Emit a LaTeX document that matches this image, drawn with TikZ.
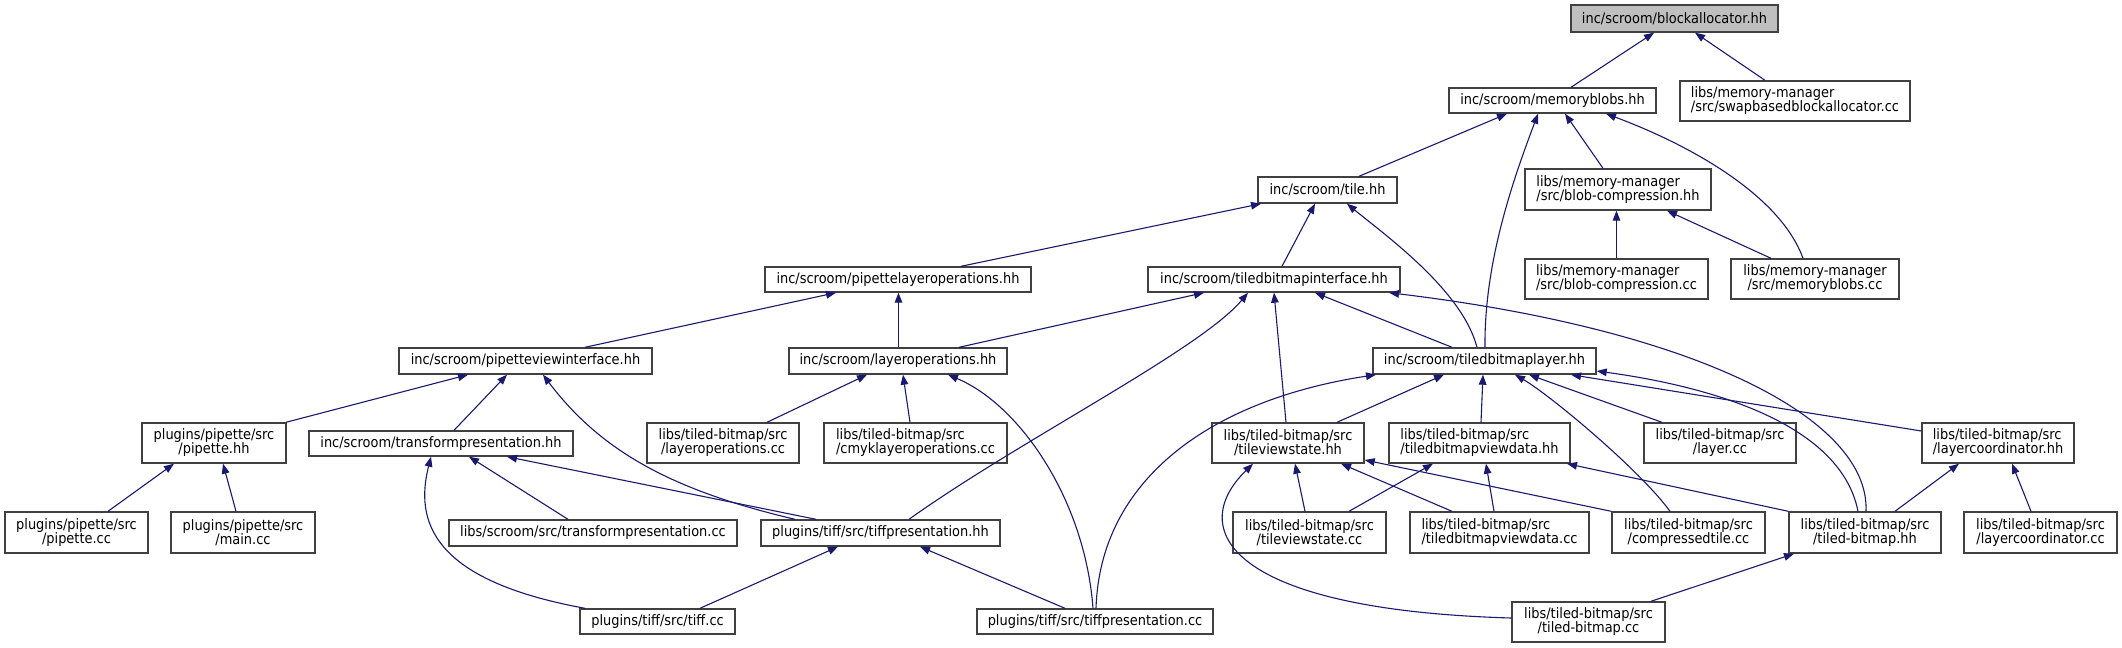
\documentclass[tikz,border=0pt]{standalone}
\usepackage{fontspec}
\setmainfont{DejaVu Sans}[FakeStretch=0.9]
\usetikzlibrary{arrows.meta}
\definecolor{edgeblue}{HTML}{191970}
\definecolor{grey25}{HTML}{404040}
\definecolor{grey75}{HTML}{BFBFBF}
\newcommand\twoln[2]{\setbox0=\hbox{#1}\setbox2=\hbox{#2}\dimen0=\wd0 \ifdim\wd2>\dimen0 \dimen0=\wd2 \fi\vbox{\hbox to\dimen0{\box0\hfil}\hbox to\dimen0{\hfil\box2\hfil}}}
\newcommand\bx[7][]{\pgfmathsetmacro\bxw{(#4-#3)*0.5}\pgfmathsetmacro\bxh{(#6-#5)*0.5}\pgfmathsetmacro\bxx{(#3+#4)/2}\pgfmathsetmacro\bxy{(#5+#6)/2}\node[box,#1,minimum width=\bxw pt,minimum height=\bxh pt] (#2) at (\bxx,\bxy) {#7};}
\begin{document}
\begin{tikzpicture}[x=0.5pt,y=-0.5pt,
  box/.style={draw=grey25, line width=0.7pt, fill=white, inner sep=0pt, font=\fontsize{7.2pt}{7pt}\selectfont},
  root/.style={fill=grey75},
  edge/.style={draw=edgeblue, line width=0.55pt, {Triangle[length=5pt,width=3.8pt]}-}]
\fill[white] (0,0) rectangle (2122,648);
\useasboundingbox (0,0) rectangle (2122,648);
% nodes
\bx[root]{blockalloc}{1571}{1778}{5}{32}{inc/scroom/blockallocator.hh}
\bx{memblobs}{1449}{1656}{88}{113}{inc/scroom/memoryblobs.hh}
\bx{swap}{1680}{1910}{81}{121}{\twoln{libs/memory-manager}{/src/swapbasedblockallocator.cc}}
\bx{tile}{1258}{1397}{177}{203}{inc/scroom/tile.hh}
\bx{bchh}{1525}{1711}{169}{210}{\twoln{libs/memory-manager}{/src/blob-compression.hh}}
\bx{plo}{765}{1031}{267}{292}{inc/scroom/pipettelayeroperations.hh}
\bx{tbi}{1148}{1400}{267}{292}{inc/scroom/tiledbitmapinterface.hh}
\bx{bccc}{1525}{1708}{259}{299}{\twoln{libs/memory-manager}{/src/blob-compression.cc}}
\bx{mbcc}{1731}{1899}{259}{299}{\twoln{libs/memory-manager}{/src/memoryblobs.cc}}
\bx{pvi}{399}{652}{348}{374}{inc/scroom/pipetteviewinterface.hh}
\bx{lohh}{789}{1007}{348}{374}{inc/scroom/layeroperations.hh}
\bx{tbl}{1373}{1596}{348}{374}{inc/scroom/tiledbitmaplayer.hh}
\bx{pphh}{142}{286}{423}{463}{\twoln{plugins/pipette/src}{/pipette.hh}}
\bx{tphh}{309}{573}{431}{456}{inc/scroom/transformpresentation.hh}
\bx{locc}{647}{799}{423}{463}{\twoln{libs/tiled-bitmap/src}{/layeroperations.cc}}
\bx{cmyk}{824}{1007}{423}{463}{\twoln{libs/tiled-bitmap/src}{/cmyklayeroperations.cc}}
\bx{tvshh}{1212}{1364}{423}{463}{\twoln{libs/tiled-bitmap/src}{/tileviewstate.hh}}
\bx{tbvdhh}{1389}{1570}{423}{463}{\twoln{libs/tiled-bitmap/src}{/tiledbitmapviewdata.hh}}
\bx{laycc}{1644}{1796}{423}{463}{\twoln{libs/tiled-bitmap/src}{/layer.cc}}
\bx{lchh}{1922}{2074}{423}{463}{\twoln{libs/tiled-bitmap/src}{/layercoordinator.hh}}
\bx{ppcc}{5}{148}{512}{553}{\twoln{plugins/pipette/src}{/pipette.cc}}
\bx{maincc}{171}{315}{512}{553}{\twoln{plugins/pipette/src}{/main.cc}}
\bx{tpcc}{449}{737}{520}{546}{libs/scroom/src/transformpresentation.cc}
\bx{tiffphh}{761}{1000}{520}{546}{plugins/tiff/src/tiffpresentation.hh}
\bx{tvscc}{1233}{1386}{512}{553}{\twoln{libs/tiled-bitmap/src}{/tileviewstate.cc}}
\bx{tbvdcc}{1410}{1589}{512}{553}{\twoln{libs/tiled-bitmap/src}{/tiledbitmapviewdata.cc}}
\bx{ctcc}{1612}{1765}{512}{553}{\twoln{libs/tiled-bitmap/src}{/compressedtile.cc}}
\bx{tbhh}{1789}{1941}{512}{553}{\twoln{libs/tiled-bitmap/src}{/tiled-bitmap.hh}}
\bx{lccc}{1964}{2117}{512}{553}{\twoln{libs/tiled-bitmap/src}{/layercoordinator.cc}}
\bx{tiffcc}{580}{735}{609}{634}{plugins/tiff/src/tiff.cc}
\bx{tiffpcc}{977}{1213}{609}{634}{plugins/tiff/src/tiffpresentation.cc}
\bx{tbcc}{1512}{1665}{602}{642}{\twoln{libs/tiled-bitmap/src}{/tiled-bitmap.cc}}
% edges
\draw[edge] (1654,0 |- blockalloc.south) -- (1571,0 |- memblobs.north);
\draw[edge] (1695,0 |- blockalloc.south) -- (1765,0 |- swap.north);
\draw[edge] (1507,0 |- memblobs.south) -- (1359,0 |- tile.north);
\draw[edge] (1538,0 |- memblobs.south) .. controls (1515,175) and (1484,260) .. (1485,0 |- tbl.north);
\draw[edge] (1565,0 |- memblobs.south) -- (1603,0 |- bchh.north);
\draw[edge] (1606,0 |- memblobs.south) .. controls (1690,145) and (1780,195) .. (1803,0 |- mbcc.north);
\draw[edge] (1616.5,0 |- bchh.south) -- (1616.5,0 |- bccc.north);
\draw[edge] (1667,0 |- bchh.south) -- (1771,0 |- mbcc.north);
\draw[edge] (1261,0 |- tile.south) -- (961,0 |- plo.north);
\draw[edge] (1315,0 |- tile.south) -- (1282,0 |- tbi.north);
\draw[edge] (1347,0 |- tile.south) .. controls (1385,235) and (1462,290) .. (1477,0 |- tbl.north);
\draw[edge] (836,0 |- plo.south) -- (585,0 |- pvi.north);
\draw[edge] (898.5,0 |- plo.south) -- (898.5,0 |- lohh.north);
\draw[edge] (1204,0 |- tbi.south) -- (959,0 |- lohh.north);
\draw[edge] (1248,0 |- tbi.south) .. controls (1200,350) and (1020,440) .. (909,0 |- tiffphh.north);
\draw[edge] (1274,0 |- tbi.south) -- (1286,0 |- tvshh.north);
\draw[edge] (1315,0 |- tbi.south) -- (1452,0 |- tbl.north);
\draw[edge] (1389,0 |- tbi.south) .. controls (1700,330) and (1870,420) .. (1866,0 |- tbhh.north);
\draw[edge] (468,0 |- pvi.south) -- (286,0 |- pphh.north);
\draw[edge] (507,0 |- pvi.south) -- (454,0 |- tphh.north);
\draw[edge] (543,0 |- pvi.south) .. controls (600,450) and (670,490) .. (795,0 |- tiffphh.north);
\draw[edge] (867,0 |- lohh.south) -- (767,0 |- locc.north);
\draw[edge] (903,0 |- lohh.south) -- (910,0 |- cmyk.north);
\draw[edge] (948,0 |- lohh.south) .. controls (1020,405) and (1085,500) .. (1093,0 |- tiffpcc.north);
\draw[edge] (1444,0 |- tbl.south) -- (1337,0 |- tvshh.north);
\draw[edge] (1483,0 |- tbl.south) -- (1481,0 |- tbvdhh.north);
\draw[edge] (1529,0 |- tbl.south) -- (1662,0 |- laycc.north);
\draw[edge] (1571,0 |- tbl.south) -- (lchh.west |- 0,431);
\draw[edge] (tbl.east |- 0,371) .. controls (1700,385) and (1840,420) .. (1858,0 |- tbhh.north);
\draw[edge] (1515,0 |- tbl.south) .. controls (1550,395) and (1640,470) .. (1670,0 |- ctcc.north);
\draw[edge] (1376,0 |- tbl.south) .. controls (1210,400) and (1100,480) .. (1096,0 |- tiffpcc.north);
\draw[edge] (174,0 |- pphh.south) -- (108,0 |- ppcc.north);
\draw[edge] (223,0 |- pphh.south) -- (236,0 |- maincc.north);
\draw[edge] (469,0 |- tphh.south) -- (568,0 |- tpcc.north);
\draw[edge] (507,0 |- tphh.south) -- (816,0 |- tiffphh.north);
\draw[edge] (431,0 |- tphh.south) .. controls (415,520) and (430,580) .. (585,0 |- tiffcc.north);
\draw[edge] (838,0 |- tiffphh.south) -- (700,0 |- tiffcc.north);
\draw[edge] (920,0 |- tiffphh.south) -- (1065,0 |- tiffpcc.north);
\draw[edge] (1295,0 |- tvshh.south) -- (1305,0 |- tvscc.north);
\draw[edge] (1341,0 |- tvshh.south) -- (1452,0 |- tbvdcc.north);
\draw[edge] (tvshh.east |- 0,460) -- (ctcc.north west);
\draw[edge] (1253,0 |- tvshh.south) .. controls (1185,530) and (1230,610) .. (tbcc.west |- 0,618);
\draw[edge] (1433,0 |- tbvdhh.south) -- (1349,0 |- tvscc.north);
\draw[edge] (1486,0 |- tbvdhh.south) -- (1494,0 |- tbvdcc.north);
\draw[edge] (1567,0 |- tbvdhh.south) -- (tbhh.north west);
\draw[edge] (1959,0 |- lchh.south) -- (1895,0 |- tbhh.north);
\draw[edge] (2012,0 |- lchh.south) -- (2031,0 |- lccc.north);
\draw[edge] (1794,0 |- tbhh.south) -- (1651,0 |- tbcc.north);
\end{tikzpicture}
\end{document}
